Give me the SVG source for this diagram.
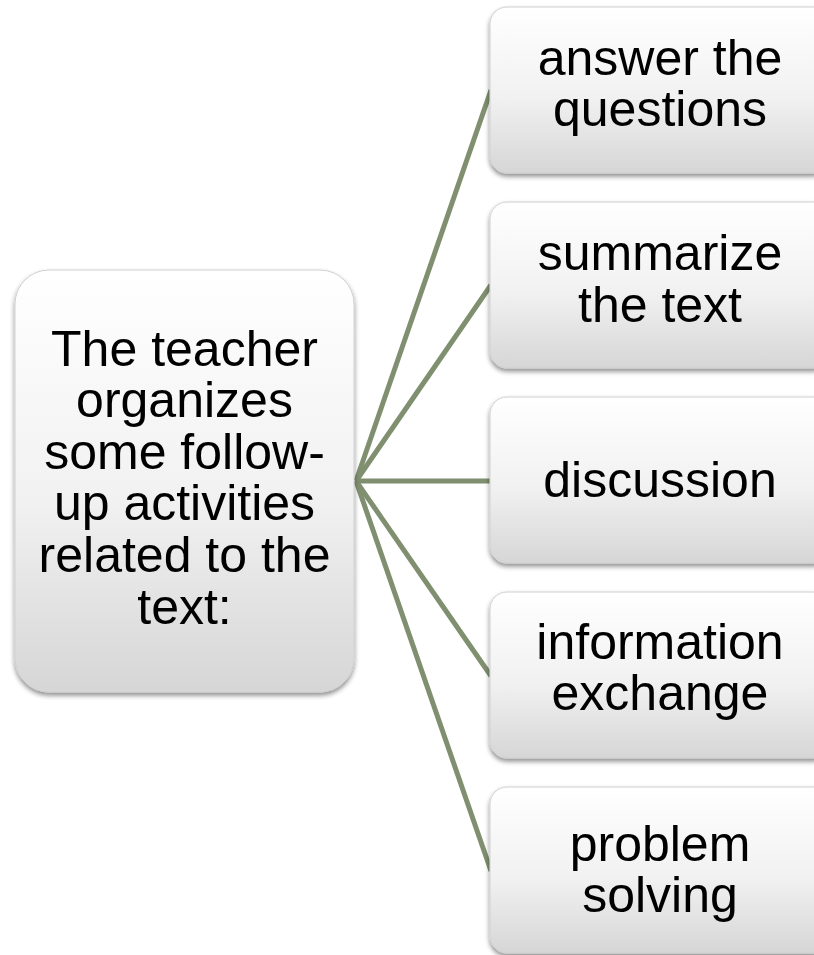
<svg xmlns="http://www.w3.org/2000/svg" width="814" height="955" viewBox="0 0 814 955">
<defs>
<linearGradient id="g" x1="0" y1="0" x2="0" y2="1">
<stop offset="0" stop-color="#ffffff"/>
<stop offset="0.55" stop-color="#f1f1f1"/>
<stop offset="1" stop-color="#d6d6d6"/>
</linearGradient>
<filter id="sh" x="-10%" y="-10%" width="120%" height="125%">
<feGaussianBlur in="SourceAlpha" stdDeviation="2.5"/>
<feOffset dx="0" dy="3" result="b"/>
<feComponentTransfer><feFuncA type="linear" slope="0.45"/></feComponentTransfer>
<feMerge><feMergeNode/><feMergeNode in="SourceGraphic"/></feMerge>
</filter>
</defs>
<style>
.box{fill:url(#g);stroke:#d0d0d0;stroke-width:1;filter:url(#sh)}
.t{font-family:"Liberation Sans",Arial,sans-serif;font-size:50px;fill:#000;text-anchor:middle}
.c{stroke:#7f8f6f;stroke-width:5;fill:none}
</style>
<rect width="814" height="955" fill="#ffffff"/>
<g id="connectors">
<line class="c" x1="356" y1="481" x2="491" y2="90"/>
<line class="c" x1="356" y1="481" x2="491" y2="285"/>
<line class="c" x1="356" y1="481" x2="491" y2="481"/>
<line class="c" x1="356" y1="481" x2="491" y2="676"/>
<line class="c" x1="356" y1="481" x2="491" y2="871"/>
</g>
<g id="root">
<rect class="box" x="15" y="270" width="339" height="422" rx="34"/>
<text class="t"><tspan x="184.5" y="366">The teacher</tspan><tspan x="184.5" y="417">organizes</tspan><tspan x="184.5" y="469">some follow-</tspan><tspan x="184.5" y="520">up activities</tspan><tspan x="184.5" y="572">related to the</tspan><tspan x="184.5" y="624">text:</tspan></text>
</g>
<g id="n1">
<rect class="box" x="490" y="7" width="340" height="166" rx="17"/>
<text class="t"><tspan x="660" y="75">answer the</tspan><tspan x="660" y="126">questions</tspan></text>
</g>
<g id="n2">
<rect class="box" x="490" y="202" width="340" height="166" rx="17"/>
<text class="t"><tspan x="660" y="270">summarize</tspan><tspan x="660" y="322">the text</tspan></text>
</g>
<g id="n3">
<rect class="box" x="490" y="397" width="340" height="166" rx="17"/>
<text class="t"><tspan x="660" y="497">discussion</tspan></text>
</g>
<g id="n4">
<rect class="box" x="490" y="592" width="340" height="166" rx="17"/>
<text class="t"><tspan x="660" y="659">information</tspan><tspan x="660" y="710">exchange</tspan></text>
</g>
<g id="n5">
<rect class="box" x="490" y="787" width="340" height="166" rx="17"/>
<text class="t"><tspan x="660" y="861">problem</tspan><tspan x="660" y="912">solving</tspan></text>
</g>
</svg>
